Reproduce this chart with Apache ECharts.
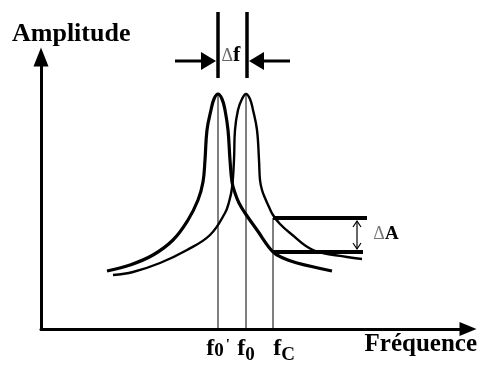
<!DOCTYPE html>
<html>
<head>
<meta charset="utf-8">
<script src="https://cdn.jsdelivr.net/npm/echarts@6/dist/echarts.min.js"></script>
<style>
  html, body { margin: 0; padding: 0; background: #fff; }
  #chart { width: 478px; height: 365px; }
</style>
</head>
<body>
<div id="chart"></div>
<script>
// two resonance curves (arbitrary units)
var shiftedFreq = [66, 89, 112, 132, 147, 157, 162, 164, 166, 170, 173, 177, 181, 184, 187, 189, 191, 194, 198, 204, 216, 232, 242, 256, 291];
var shiftedAmp  = [58, 64, 74, 89, 109, 129, 147, 169, 199, 219, 230, 235, 230, 219, 199, 169, 147, 136, 126, 116, 99, 77, 71, 66, 58];
var refFreq = [72, 92, 119, 146, 169, 184, 188, 191, 193, 194, 197, 201, 205, 209, 212, 216, 218, 219, 221, 224, 228, 232, 239, 249, 272, 306, 321];
var refAmp  = [54, 57, 66, 79, 94, 116, 127, 141, 169, 199, 219, 230, 235, 230, 219, 199, 169, 149, 139, 131, 122, 114, 105, 96, 79, 72, 70];

// f0', f0, fC
var markFreq = [177, 205, 232];
var markTop = [235, 235, 111];
var tickLabels = ["f0'", "f0", "fC"];

// delta f bracket (above the peaks) and delta A bracket
var deltaFBars = [177, 206];
var deltaFBarSpan = [251, 317];
var deltaFArrowY = 268;
var deltaFArrowLeft = [134, 175];
var deltaFArrowRight = [249, 208];
var deltaALevels = [111, 77];
var deltaAEnds = [326, 322];
var deltaAFrom = 232;
var deltaAArrowX = 316;

var SERIF = '"Liberation Serif", "Times New Roman", serif';

function pairs(xs, ys) {
  return xs.map(function (x, i) { return [x, ys[i]]; });
}

var chart = echarts.init(document.getElementById('chart'));

function renderNotes(params, api) {
  var kids = [];
  // delta f: two thick bars
  deltaFBars.forEach(function (x) {
    var a = api.coord([x, deltaFBarSpan[1]]);
    var b = api.coord([x, deltaFBarSpan[0]]);
    kids.push({ type: 'line', shape: { x1: a[0], y1: a[1], x2: b[0], y2: b[1] },
      style: { stroke: '#000', lineWidth: 3.5 } });
  });
  // delta f: arrows pointing in
  [deltaFArrowLeft, deltaFArrowRight].forEach(function (seg) {
    var s = api.coord([seg[0], deltaFArrowY]);
    var t = api.coord([seg[1], deltaFArrowY]);
    var dir = t[0] > s[0] ? 1 : -1;
    kids.push({ type: 'line', shape: { x1: s[0], y1: s[1], x2: t[0] - dir * 10, y2: t[1] },
      style: { stroke: '#000', lineWidth: 3 } });
    kids.push({ type: 'polygon',
      shape: { points: [[t[0], t[1]], [t[0] - dir * 15, t[1] - 9], [t[0] - dir * 15, t[1] + 9]] },
      style: { fill: '#000' } });
  });
  var lf = api.coord([190, 274]);
  kids.push({ type: 'text', x: lf[0], y: lf[1], style: {
    text: '{d|\u0394}{v|f}', align: 'center', verticalAlign: 'middle',
    rich: {
      d: { fontFamily: SERIF, fontSize: 18, fill: '#666', verticalAlign: 'bottom', padding: [0, 0, 1, 0] },
      v: { fontFamily: SERIF, fontSize: 22, fontWeight: 'bold', fill: '#000', verticalAlign: 'bottom' }
    } } });

  // delta A: two thick levels and a double arrow
  deltaALevels.forEach(function (y, i) {
    var a = api.coord([deltaAFrom, y]);
    var b = api.coord([deltaAEnds[i], y]);
    kids.push({ type: 'line', shape: { x1: a[0], y1: a[1], x2: b[0], y2: b[1] },
      style: { stroke: '#000', lineWidth: 4 } });
  });
  var top = api.coord([deltaAArrowX, deltaALevels[0]]);
  var bot = api.coord([deltaAArrowX, deltaALevels[1]]);
  var y1 = top[1] + 3, y2 = bot[1] - 3;
  kids.push({ type: 'line', shape: { x1: top[0], y1: y1, x2: bot[0], y2: y2 },
    style: { stroke: '#000', lineWidth: 1.2 } });
  kids.push({ type: 'polyline', shape: { points: [[top[0] - 4, y1 + 6], [top[0], y1], [top[0] + 4, y1 + 6]] },
    style: { stroke: '#000', lineWidth: 1.2, fill: null } });
  kids.push({ type: 'polyline', shape: { points: [[bot[0] - 4, y2 - 6], [bot[0], y2], [bot[0] + 4, y2 - 6]] },
    style: { stroke: '#000', lineWidth: 1.2, fill: null } });
  var la = api.coord([345, 95]);
  kids.push({ type: 'text', x: la[0], y: la[1], style: {
    text: '{d|\u0394}{v|A}', align: 'center', verticalAlign: 'middle',
    rich: {
      d: { fontFamily: SERIF, fontSize: 18, fill: '#777', verticalAlign: 'bottom' },
      v: { fontFamily: SERIF, fontSize: 19, fontWeight: 'bold', fill: '#000', verticalAlign: 'bottom' }
    } } });
  return { type: 'group', children: kids };
}

var option = {
  animation: false,
  backgroundColor: '#fff',
  grid: { left: 41, right: 10, top: 57, bottom: 36 },
  xAxis: {
    type: 'value', min: 0, max: 427,
    axisLine: { show: true, symbol: ['none', 'triangle'], symbolSize: [14, 17],
      lineStyle: { color: '#000', width: 3 } },
    axisTick: { show: false },
    splitLine: { show: false },
    axisLabel: {
      customValues: markFreq,
      margin: 8,
      formatter: function (v) {
        var i = markFreq.indexOf(v);
        var t = tickLabels[i];
        if (i === 0) return '{f|' + t.charAt(0) + '}{n|' + t.charAt(1) + '}{p|' + t.charAt(2) + '}';
        if (i === 2) return '{g| }{f|' + t.charAt(0) + '}{s|' + t.charAt(1) + '}';
        return '{f|' + t.charAt(0) + '}{s|' + t.slice(1) + '}';
      },
      rich: {
        f: { fontFamily: SERIF, fontWeight: 'bold', fontSize: 24, color: '#000', verticalAlign: 'bottom', padding: [0, 0, 4, 0] },
        n: { fontFamily: SERIF, fontWeight: 'bold', fontSize: 19, color: '#000', verticalAlign: 'bottom', padding: [0, 0, 4, 0] },
        s: { fontFamily: SERIF, fontWeight: 'bold', fontSize: 19, color: '#000', verticalAlign: 'bottom' },
        p: { fontFamily: SERIF, fontWeight: 'bold', fontSize: 15, color: '#000', verticalAlign: 'bottom', padding: [0, 0, 12, 2] },
        g: { width: 22 }
      }
    }
  },
  yAxis: {
    type: 'value', min: 0, max: 272,
    axisLine: { show: true, symbol: ['none', 'triangle'], symbolSize: [15, 19],
      lineStyle: { color: '#000', width: 3 } },
    axisTick: { show: false },
    axisLabel: { show: false },
    splitLine: { show: false }
  },
  graphic: [
    { type: 'text', x: 12, y: 34, style: { text: 'Amplitude', font: 'bold 26px ' + SERIF,
      fill: '#000', verticalAlign: 'middle' } },
    { type: 'text', x: 477, y: 345, style: { text: 'Fréquence', font: 'bold 25px ' + SERIF,
      fill: '#000', align: 'right', verticalAlign: 'middle' } }
  ],
  series: markFreq.map(function (x, i) {
    return { type: 'line', data: [[x, 0], [x, markTop[i]]], symbol: 'none', silent: true,
      lineStyle: { color: '#000', width: 1 }, z: 1 };
  }).concat([
    { type: 'line', name: "f0'", data: pairs(shiftedFreq, shiftedAmp), smooth: 0.4, symbol: 'none',
      lineStyle: { color: '#000', width: 3.2 }, z: 3 },
    { type: 'line', name: 'f0', data: pairs(refFreq, refAmp), smooth: 0.4, symbol: 'none',
      lineStyle: { color: '#000', width: 2.4 }, z: 3 },
    { type: 'custom', data: [[0, 0]], clip: false, silent: true, renderItem: renderNotes, z: 4 }
  ])
};

chart.setOption(option);
</script>
</body>
</html>
